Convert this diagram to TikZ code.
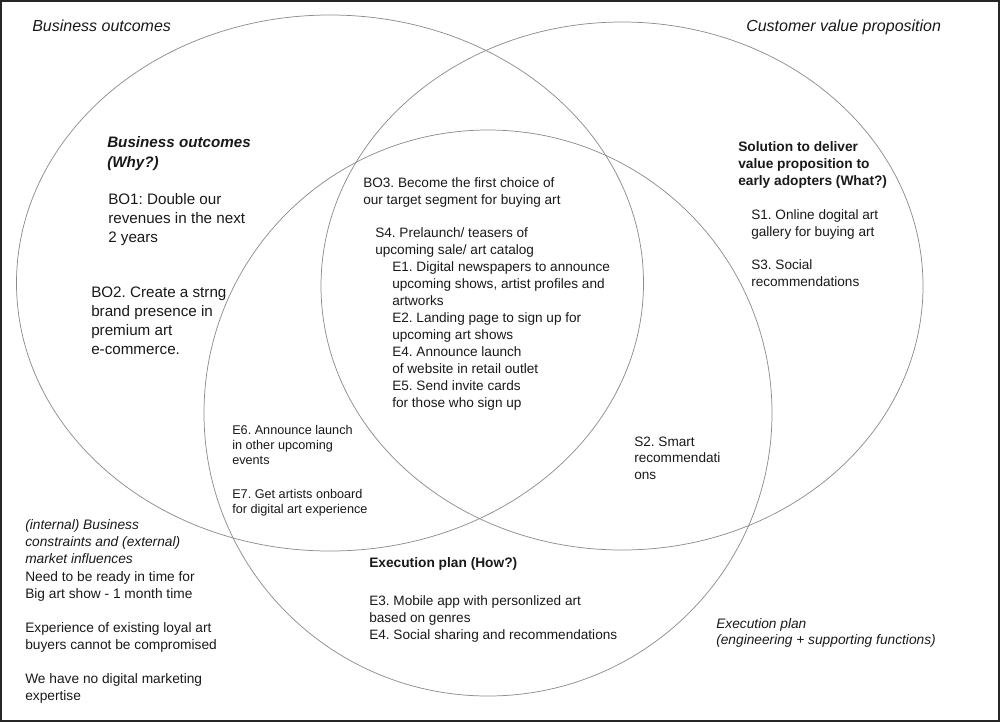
\documentclass[tikz,border=0pt]{standalone}
\usepackage{fontspec}
\setmainfont{Liberation Sans}
\frenchspacing
\newcommand{\tb}[1]{\begin{tabular}[t]{@{}l@{}}#1\end{tabular}}
\tikzset{
  venn/.style={draw=black!45, line width=0.55pt},
  txt/.style={anchor=base west, inner sep=0pt, text=black!90},
  title/.style={txt, font=\fontsize{12}{15}\selectfont\itshape},
  bigtxt/.style={txt, font=\fontsize{11.4}{14.25}\selectfont},
  smalltxt/.style={txt, font=\fontsize{10.2}{12.75}\selectfont},
  tinytxt/.style={txt, font=\fontsize{9.5}{11.6}\selectfont},
}
\begin{document}
\begin{tikzpicture}[x=0.75pt,y=-0.75pt]
\useasboundingbox (0,0) rectangle (1000,722);
\draw[black!85, line width=1pt] (1,1) rectangle (999,721);
% circles
\draw[venn] (330,283) ellipse [x radius=313.5, y radius=268];
\draw[venn] (622,286) ellipse [x radius=301, y radius=264];
\draw[venn] (488,413) ellipse [x radius=284, y radius=283];
% titles
\node[title] (t1) at (32,31) {Business outcomes};
\node[title] (t2) at (746,31) {Customer value proposition};
% business outcomes
\node[bigtxt, font=\fontsize{11.4}{15}\selectfont\bfseries\itshape] (bo) at (107,147) {\tb{Business outcomes\\(Why?)}};
\node[bigtxt] (bo1) at (108,204) {\tb{BO1: Double our\\revenues in the next\\2 years}};
\node[bigtxt] (bo2) at (91,297) {\tb{BO2. Create a strng\\brand presence in\\premium art\\e-commerce.}};
% centre
\node[smalltxt] (bo3) at (363,187) {\tb{BO3. Become the first choice of\\our target segment for buying art}};
\node[smalltxt] (s4) at (375,237) {\tb{S4. Prelaunch/ teasers of\\upcoming sale/ art catalog}};
\node[smalltxt] (e1) at (392,271) {\tb{E1. Digital newspapers to announce\\upcoming shows, artist profiles and\\artworks\\E2. Landing page to sign up for\\upcoming art shows\\E4. Announce launch\\of website in retail outlet\\E5. Send invite cards\\for those who sign up}};
% solution
\node[smalltxt, font=\fontsize{10.3}{12.75}\selectfont\bfseries] (sol) at (738,151) {\tb{Solution to deliver\\value proposition to\\early adopters (What?)}};
\node[smalltxt] (s1) at (751,219) {\tb{S1. Online dogital art\\gallery for buying art}};
\node[smalltxt] (s3) at (751,269) {\tb{S3. Social\\recommendations}};
% E6 E7
\node[tinytxt] (e6) at (232,434) {\tb{E6. Announce launch\\in other upcoming\\events}};
\node[tinytxt] (e7) at (232,498) {\tb{E7. Get artists onboard\\for digital art experience}};
% S2
\node[smalltxt, font=\fontsize{10.2}{12.4}\selectfont] (s2) at (634,446) {\tb{S2. Smart\\recommendati\\ons}};
% constraints
\node[smalltxt, font=\fontsize{10.3}{12.75}\selectfont\itshape] (con) at (25,529) {\tb{(internal) Business\\constraints and (external)\\market influences}};
\node[smalltxt, font=\fontsize{10.3}{12.75}\selectfont] (c1) at (25,581) {\tb{Need to be ready in time for\\Big art show - 1 month time}};
\node[smalltxt, font=\fontsize{10.3}{12.75}\selectfont] (c2) at (25,632) {\tb{Experience of existing loyal art\\buyers cannot be compromised}};
\node[smalltxt, font=\fontsize{10.3}{12.75}\selectfont] (c3) at (25,683) {\tb{We have no digital marketing\\expertise}};
% execution plan
\node[smalltxt, font=\fontsize{10.3}{12.75}\selectfont\bfseries] (ep) at (369,567) {Execution plan (How?)};
\node[smalltxt] (e3) at (369,605) {\tb{E3. Mobile app with personlized art\\based on genres\\E4. Social sharing and recommendations}};
\node[smalltxt, font=\fontsize{10.3}{12.2}\selectfont\itshape] (ep2) at (716,628) {\tb{Execution plan\\(engineering + supporting functions)}};
\end{tikzpicture}
\end{document}
